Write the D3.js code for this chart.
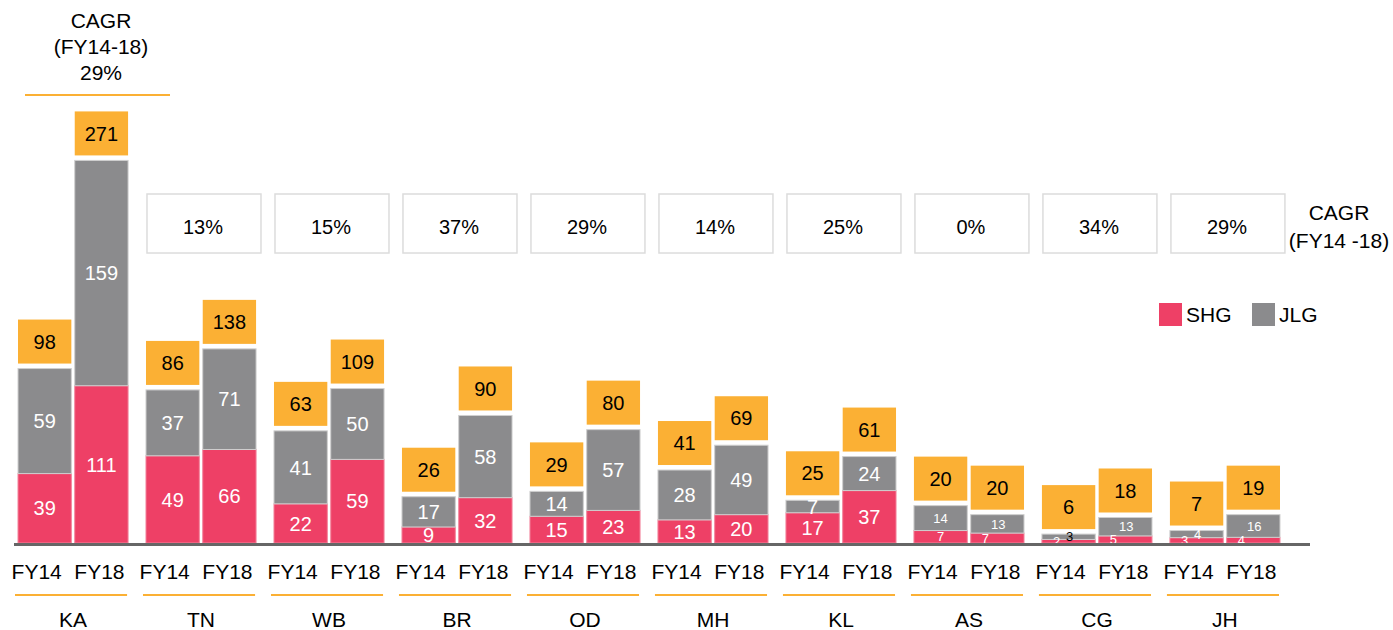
<!DOCTYPE html>
<html>
<head>
<meta charset="utf-8">
<script src="https://cdn.jsdelivr.net/npm/d3@7"></script>
<style>
  body { margin: 0; background: #fff; }
  text { font-family: "Liberation Sans", Arial, Helvetica, sans-serif; }
</style>
</head>
<body>
<div id="container"></div>
<script>
// chart size
let w = 1393;
let h = 630;
let base = 543;

// data
let states = ["KA", "TN", "WB", "BR", "OD", "MH", "KL", "AS", "CG", "JH"];
let years = ["FY14", "FY18"];
let shg14 = [39, 49, 22, 9, 15, 13, 17, 7, 2, 3];
let jlg14 = [59, 37, 41, 17, 14, 28, 7, 14, 3, 4];
let total14 = [98, 86, 63, 26, 29, 41, 25, 20, 6, 7];
let shg18 = [111, 66, 59, 32, 23, 20, 37, 7, 5, 4];
let jlg18 = [159, 71, 50, 58, 57, 49, 24, 13, 13, 16];
let total18 = [271, 138, 109, 90, 80, 69, 61, 20, 18, 19];
let cagr = ["29%", "13%", "15%", "37%", "29%", "14%", "25%", "0%", "34%", "29%"];

let pink = "#EE4066";
let grey = "#8B8B8D";
let orange = "#FBB034";

let viz = d3.select("#container")
  .append("svg")
    .attr("width", w)
    .attr("height", h)
;

// build bar rows from the arrays
let bars = [];
states.forEach(function(s, i){
  bars.push({state: s, year: "FY14", idx: i, shg: shg14[i], jlg: jlg14[i], total: total14[i]});
  bars.push({state: s, year: "FY18", idx: i, shg: shg18[i], jlg: jlg18[i], total: total18[i]});
});

// scales
let xGroup = d3.scaleBand()
    .domain(states)
    .range([18, 1280])
    .paddingInner(0.14)
    .paddingOuter(0)
;
let xYear = d3.scaleBand()
    .domain(years)
    .range([0, xGroup.bandwidth()])
    .paddingInner(0.06)
;
// the original uses a different vertical scale for each year
let yScales = {
  FY14: d3.scaleLinear().domain([0, 100]).range([base, base - 178]),
  FY18: d3.scaleLinear().domain([0, 271]).range([base, base - 384])
};

// CAGR boxes (all states but the first)
let cagrGroup = viz.append("g").classed("cagr", true);
states.forEach(function(s, i){
  if(i == 0) return;
  cagrGroup.append("rect")
    .attr("x", xGroup(s) + 1)
    .attr("y", 194)
    .attr("width", 114)
    .attr("height", 59)
    .attr("fill", "#fff")
    .attr("stroke", "#dcdcdc")
    .attr("stroke-width", 1.5);
  cagrGroup.append("text")
    .attr("x", xGroup(s) + 57)
    .attr("y", 234)
    .attr("text-anchor", "middle")
    .attr("font-size", 20)
    .text(cagr[i]);
});

// KA CAGR heading
let kaX = 101;
["CAGR", "(FY14-18)", cagr[0]].forEach(function(t, i){
  viz.append("text")
    .attr("x", kaX)
    .attr("y", 28 + i * 26)
    .attr("text-anchor", "middle")
    .attr("font-size", 21)
    .text(t);
});
viz.append("line")
  .attr("x1", 25).attr("x2", 170)
  .attr("y1", 95).attr("y2", 95)
  .attr("stroke", orange).attr("stroke-width", 2);

// right side CAGR label
viz.append("text").attr("x", 1339).attr("y", 220).attr("text-anchor", "middle")
  .attr("font-size", 21).text("CAGR");
viz.append("text").attr("x", 1339).attr("y", 248).attr("text-anchor", "middle")
  .attr("font-size", 21).text("(FY14 -18)");

// legend
let legend = viz.append("g").classed("legend", true);
[["SHG", pink, 1159], ["JLG", grey, 1252]].forEach(function(d){
  legend.append("rect").attr("x", d[2]).attr("y", 303).attr("width", 23).attr("height", 23).attr("fill", d[1]);
  legend.append("text").attr("x", d[2] + 27).attr("y", 322).attr("font-size", 21).text(d[0]);
});

// bars
let graphGroup = viz.append("g").classed("graphGroup", true);
let barGroups = graphGroup.selectAll(".datapoint").data(bars).enter()
  .append("g")
    .classed("datapoint", true)
    .attr("transform", function(d){
      return "translate(" + (xGroup(d.state) + xYear(d.year)) + ",0)";
    })
;
let bw = xYear.bandwidth();

barGroups.append("rect")
  .attr("x", 0)
  .attr("width", bw)
  .attr("y", function(d){ return yScales[d.year](d.shg); })
  .attr("height", function(d){ return base - yScales[d.year](d.shg); })
  .attr("fill", pink)
  .attr("stroke", "#f3849c")
  .attr("stroke-width", 1);

barGroups.append("rect")
  .attr("x", 0)
  .attr("width", bw)
  .attr("y", function(d){ return yScales[d.year](d.shg + d.jlg); })
  .attr("height", function(d){ return yScales[d.year](d.shg) - yScales[d.year](d.shg + d.jlg); })
  .attr("fill", grey)
  .attr("stroke", "#cfcfcf")
  .attr("stroke-width", 1);

// total boxes
barGroups.append("rect")
  .attr("x", 0)
  .attr("width", bw)
  .attr("y", function(d){ return yScales[d.year](d.shg + d.jlg) - 5 - 44; })
  .attr("height", 44)
  .attr("fill", orange);
barGroups.append("text")
  .attr("x", bw / 2)
  .attr("y", function(d){ return yScales[d.year](d.shg + d.jlg) - 5 - 22; })
  .attr("dy", "0.36em")
  .attr("text-anchor", "middle")
  .attr("font-size", 20)
  .attr("fill", "#000")
  .text(function(d){ return d.total; });

// segment labels
function small(d){ return d.total < 22; }
function segH(d, v){ return base - yScales[d.year](v); }

barGroups.append("text")
  .attr("x", function(d){
    return (small(d) && segH(d, d.shg) < 11) ? bw / 2 - 12 : bw / 2;
  })
  .attr("y", function(d){ return (base + yScales[d.year](d.shg)) / 2; })
  .attr("dy", "0.36em")
  .attr("text-anchor", "middle")
  .attr("font-size", function(d){ return small(d) ? 13 : 20; })
  .attr("fill", "#fff")
  .text(function(d){ return d.shg; });

barGroups.append("text")
  .attr("x", function(d){
    return (small(d) && segH(d, d.shg) < 11) ? bw / 2 + 1 : bw / 2;
  })
  .attr("y", function(d){
    return (yScales[d.year](d.shg) + yScales[d.year](d.shg + d.jlg)) / 2;
  })
  .attr("dy", "0.36em")
  .attr("text-anchor", "middle")
  .attr("font-size", function(d){ return small(d) ? 13 : 20; })
  .attr("fill", function(d){
    return (yScales[d.year](d.shg) - yScales[d.year](d.shg + d.jlg)) < 7 ? "#000" : "#fff";
  })
  .text(function(d){ return d.jlg; });

// baseline
viz.append("line")
  .attr("x1", 14).attr("x2", 1310)
  .attr("y1", base + 1.5).attr("y2", base + 1.5)
  .attr("stroke", "#666").attr("stroke-width", 3);

// year labels under each bar (FY14 sits a little left of its bar)
barGroups.append("text")
  .attr("x", function(d){ return d.year == "FY14" ? bw / 2 - 8 : bw / 2 - 2; })
  .attr("y", 579)
  .attr("text-anchor", "middle")
  .attr("font-size", 21)
  .text(function(d){ return d.year; });

// state labels + orange underline
let stateGroups = viz.append("g").selectAll(".state").data(states).enter()
  .append("g").classed("state", true)
  .attr("transform", function(d){ return "translate(" + xGroup(d) + ",0)"; });
stateGroups.append("line")
  .attr("x1", -3).attr("x2", xGroup.bandwidth() - 1)
  .attr("y1", 595).attr("y2", 595)
  .attr("stroke", orange).attr("stroke-width", 2);
stateGroups.append("text")
  .attr("x", xGroup.bandwidth() / 2)
  .attr("y", 627)
  .attr("text-anchor", "middle")
  .attr("font-size", 21)
  .text(function(d){ return d; });
</script>
</body>
</html>
